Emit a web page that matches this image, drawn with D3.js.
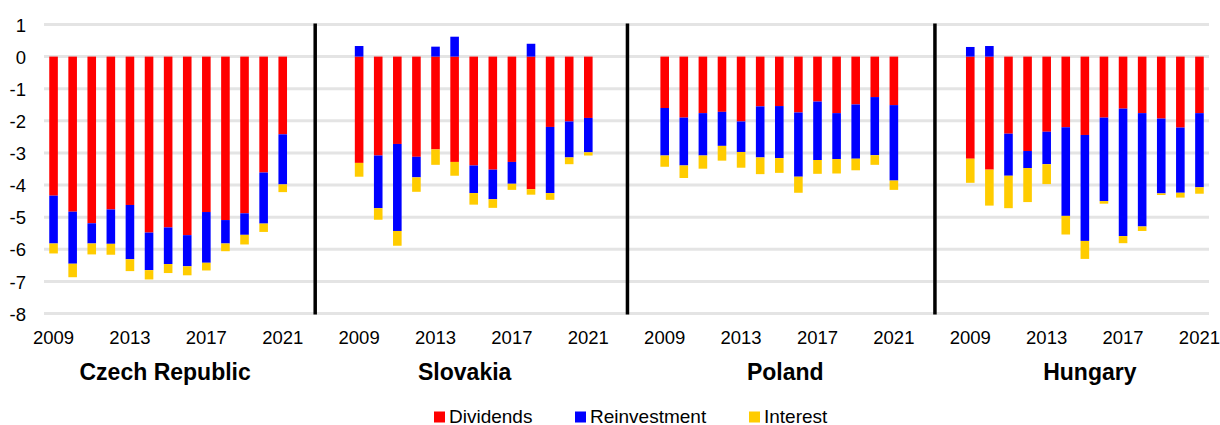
<!DOCTYPE html>
<html>
<head>
<meta charset="utf-8">
<script src="https://cdn.jsdelivr.net/npm/d3@7"></script>
<style>
  body { margin: 0; background: #fff; }
  svg { font-family: "Liberation Sans", Arial, sans-serif; }
</style>
</head>
<body>
<script>
var width = 1220,
    height = 425;

var countries = ["Czech Republic", "Slovakia", "Poland", "Hungary"];
var years = d3.range(2009, 2022);
var yearTicks = [2009, 2013, 2017, 2021];
var yTicks = [1, 0, -1, -2, -3, -4, -5, -6, -7, -8];
var keys = ["Dividends", "Reinvestment", "Interest"];
var colors = ["#ff0000", "#0000ff", "#ffcc00"];

// values per country, 2009..2021
var dividends = {
  "Czech Republic": [-4.33, -4.83, -5.19, -4.76, -4.62, -5.48, -5.32, -5.56, -4.84, -5.09, -4.88, -3.61, -2.42],
  "Slovakia":       [-3.31, -3.08, -2.72, -3.12, -2.89, -3.28, -3.39, -3.52, -3.28, -4.13, -2.19, -2.02, -1.91],
  "Poland":         [-1.60, -1.90, -1.76, -1.72, -2.02, -1.55, -1.54, -1.74, -1.40, -1.76, -1.49, -1.26, -1.51],
  "Hungary":        [-3.18, -3.52, -2.40, -2.94, -2.34, -2.20, -2.44, -1.90, -1.62, -1.76, -1.93, -2.21, -1.76]
};
var reinvestment = {
  "Czech Republic": [-1.49, -1.62, -0.63, -1.07, -1.69, -1.17, -1.14, -0.97, -1.58, -0.73, -0.67, -1.59, -1.56],
  "Slovakia":       [0.33, -1.64, -2.71, -0.64, 0.31, 0.62, -0.86, -0.92, -0.68, 0.40, -2.06, -1.12, -1.07],
  "Poland":         [-1.48, -1.49, -1.32, -1.06, -0.95, -1.59, -1.62, -2.00, -1.82, -1.43, -1.69, -1.81, -2.35],
  "Hungary":        [0.30, 0.33, -1.31, -0.53, -1.01, -2.76, -3.30, -2.60, -3.97, -3.53, -2.33, -2.03, -2.31]
};
var interest = {
  "Czech Republic": [-0.31, -0.42, -0.34, -0.34, -0.37, -0.29, -0.28, -0.28, -0.24, -0.24, -0.30, -0.26, -0.24],
  "Slovakia":       [-0.43, -0.36, -0.46, -0.45, -0.48, -0.43, -0.36, -0.27, -0.19, -0.17, -0.21, -0.21, -0.10],
  "Poland":         [-0.35, -0.39, -0.41, -0.46, -0.49, -0.52, -0.46, -0.50, -0.43, -0.45, -0.36, -0.30, -0.29],
  "Hungary":        [-0.75, -1.12, -1.01, -1.06, -0.62, -0.58, -0.56, -0.08, -0.22, -0.14, -0.05, -0.15, -0.20]
};

// each country takes 13 slots, followed by 3 empty slots
var slotsPer = 16;
var rows = [];
countries.forEach(function(c, ci) {
  years.forEach(function(yr, j) {
    rows.push({
      slot: ci * slotsPer + j,
      country: c,
      year: yr,
      Dividends: dividends[c][j],
      Reinvestment: reinvestment[c][j],
      Interest: interest[c][j]
    });
  });
});

var svg = d3.select("body").append("svg")
    .attr("width", width)
    .attr("height", height);

var x = d3.scaleBand()
    .domain(d3.range(0, countries.length * slotsPer - 3))
    .range([44, 1209])
    .paddingInner(0.55)
    .paddingOuter(0.275);

var y = d3.scaleLinear()
    .domain([-8, 1])
    .range([313.5, 24.5]);

// gridlines
svg.append("g")
  .selectAll("line")
  .data(yTicks)
  .enter().append("line")
    .attr("x1", 44)
    .attr("x2", 1209)
    .attr("y1", function(d) { return y(d); })
    .attr("y2", function(d) { return y(d); })
    .style("stroke", "#e4e4e4")
    .style("stroke-width", 3);

// y axis labels
var yAxis = svg.append("g")
    .attr("transform", "translate(30,0)")
    .call(d3.axisLeft(y).tickValues(yTicks).tickSize(0).tickPadding(4)
      .tickFormat(function(d) { return String(d); }));
yAxis.select(".domain").remove();
yAxis.selectAll("text")
    .style("font-size", "18.5px")
    .style("fill", "#000")
    .attr("dy", "0.36em");

// stacked bars
var stack = d3.stack()
    .keys(keys)
    .offset(d3.stackOffsetDiverging);
var series = stack(rows);

svg.append("g")
  .selectAll("g")
  .data(series)
  .enter().append("g")
    .style("fill", function(d, i) { return colors[i]; })
  .selectAll("rect")
  .data(function(d) { return d; })
  .enter().append("rect")
    .attr("x", function(d) { return x(d.data.slot); })
    .attr("width", x.bandwidth())
    .attr("y", function(d) { return y(Math.max(d[0], d[1])); })
    .attr("height", function(d) { return Math.abs(y(d[0]) - y(d[1])); });

// separators between countries (in slot units)
var sepAt = [14.2, 30.55, 46.65];
svg.append("g")
  .selectAll("line")
  .data(sepAt)
  .enter().append("line")
    .attr("x1", function(d) { return x.range()[0] + x.step() * d; })
    .attr("x2", function(d) { return x.range()[0] + x.step() * d; })
    .attr("y1", y(1) - 1)
    .attr("y2", y(-8) + 1)
    .style("stroke", "#000")
    .style("stroke-width", 3.5);

// year labels under each country
var tickRows = [];
countries.forEach(function(c, ci) {
  yearTicks.forEach(function(yr) {
    tickRows.push({ slot: ci * slotsPer + years.indexOf(yr), year: yr });
  });
});
svg.append("g")
  .selectAll("text")
  .data(tickRows)
  .enter().append("text")
    .attr("x", function(d) { return x(d.slot) + x.bandwidth() / 2; })
    .attr("y", 344)
    .attr("text-anchor", "middle")
    .style("font-size", "18.5px")
    .text(function(d) { return d.year; });

// country titles
var titleShift = [-3, -9, 6, 5];
svg.append("g")
  .selectAll("text")
  .data(countries)
  .enter().append("text")
    .attr("x", function(d, i) {
      var a = x(i * slotsPer), b = x(i * slotsPer + years.length - 1) + x.bandwidth();
      return (a + b) / 2 + titleShift[i];
    })
    .attr("y", 380)
    .attr("text-anchor", "middle")
    .style("font-size", "23px")
    .style("font-weight", "bold")
    .text(function(d) { return d; });

// legend
var legendX = [434, 575, 749];
var legend = svg.append("g")
  .selectAll("g")
  .data(keys)
  .enter().append("g")
    .attr("transform", function(d, i) { return "translate(" + legendX[i] + ",411.5)"; });
legend.append("rect")
    .attr("width", 11)
    .attr("height", 11)
    .style("fill", function(d, i) { return colors[i]; });
legend.append("text")
    .attr("x", 15)
    .attr("y", 11)
    .style("font-size", "19px")
    .text(function(d) { return d; });
</script>
</body>
</html>
